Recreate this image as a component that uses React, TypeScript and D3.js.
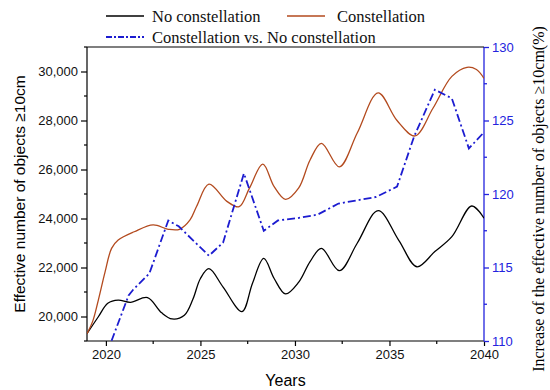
import React, { useEffect, useRef } from 'react';
import * as d3 from 'd3';

// No constellation (black)
const noConstYears = [2019, 2019.6, 2020.1, 2020.65, 2021.3, 2022.2, 2022.95, 2023.5, 2024.15, 2024.6, 2025.0, 2025.45, 2026.2, 2027.2, 2027.75, 2028.35, 2028.9, 2029.5, 2030.2, 2030.8, 2031.4, 2032.35, 2033.3, 2034.4, 2035.5, 2036.45, 2037.4, 2038.3, 2039.35, 2040];
const noConstValues = [19300, 19990, 20540, 20670, 20580, 20770, 20150, 19900, 20050, 20700, 21550, 21950, 21200, 20200, 21350, 22370, 21550, 20920, 21400, 22240, 22780, 21870, 23000, 24320, 23100, 22030, 22650, 23260, 24510, 24010];

// Constellation (brown-red)
const constYears = [2019, 2019.3, 2019.6, 2019.95, 2020.3, 2020.65, 2021.5, 2022.5, 2023.3, 2023.9, 2024.45, 2024.8, 2025.45, 2026.4, 2027.05, 2027.6, 2028.3, 2028.9, 2029.5, 2030.2, 2030.8, 2031.4, 2032.35, 2033.3, 2034.4, 2035.4, 2036.35, 2037.3, 2038.3, 2039.1, 2039.6, 2040];
const constValues = [19300, 19800, 20670, 21800, 22780, 23120, 23460, 23740, 23560, 23560, 23940, 24500, 25400, 24700, 24480, 25250, 26220, 25300, 24780, 25250, 26390, 27070, 26110, 27500, 29130, 28000, 27370, 28500, 29800, 30170, 30080, 29720];

// Constellation vs. No constellation (%), right axis
const ratioYears = [2020, 2021.2, 2021.45, 2022.3, 2023.3, 2023.85, 2025.45, 2026.2, 2027.3, 2028.35, 2029.1, 2030.1, 2031.2, 2032.3, 2034.3, 2035.4, 2036.3, 2037.4, 2038.3, 2039.2, 2040];
const ratioValues = [109.0, 113.1, 113.5, 114.6, 118.2, 117.8, 115.8, 116.7, 121.4, 117.5, 118.2, 118.35, 118.6, 119.35, 119.8, 120.5, 123.9, 127.1, 126.5, 123.1, 124.2];

const xTicks = [2020, 2025, 2030, 2035, 2040];
const xMinorTicks = [2022.5, 2027.5, 2032.5, 2037.5];
const yTicks = [20000, 22000, 24000, 26000, 28000, 30000];
const yMinorTicks = [19000, 21000, 23000, 25000, 27000, 29000, 31000];
const y2Ticks = [110, 115, 120, 125, 130];
const y2MinorTicks = [112.5, 117.5, 122.5, 127.5];

const BLACK = '#000000';
const RED = '#b34a1e';
const BLUE = '#1c1cd0';
const AXIS_BLUE = '#2323dd';
const SANS = 'Arial, "Liberation Sans", sans-serif';
const SERIF = '"Times New Roman", "Liberation Serif", serif';

export default function App() {
  const svgRef = useRef<SVGSVGElement>(null);
  const width = 550;
  const height = 390;
  const margin = { top: 47, right: 66, bottom: 49, left: 87 };

  useEffect(() => {
    const w = width - margin.left - margin.right;
    const h = height - margin.top - margin.bottom;
    const svg = d3.select(svgRef.current);
    svg.selectAll('*').remove();

    const x = d3.scaleLinear().domain([2019, 2040]).range([0, w]);
    const y = d3.scaleLinear().domain([19000, 31000]).range([h, 0]);
    const y2 = d3.scaleLinear().domain([110, 130]).range([h, 0]);

    svg.append('defs').append('clipPath').attr('id', 'plot-clip')
      .append('rect').attr('width', w).attr('height', h);

    const chart = svg.append('g').attr('transform', `translate(${margin.left},${margin.top})`);

    // bottom axis
    const xAxis = chart.append('g').attr('transform', `translate(0,${h})`)
      .call(d3.axisBottom(x).tickValues(xTicks).tickFormat(d3.format('d')).tickSize(5).tickPadding(4));
    xAxis.append('g').selectAll('line').data(xMinorTicks).join('line')
      .attr('x1', (d) => x(d)).attr('x2', (d) => x(d)).attr('y1', 0).attr('y2', 3)
      .attr('stroke', BLACK);

    // left axis
    const yAxis = chart.append('g')
      .call(d3.axisLeft(y).tickValues(yTicks).tickFormat(d3.format(',')).tickSize(6).tickPadding(3));
    yAxis.append('g').selectAll('line').data(yMinorTicks).join('line')
      .attr('x1', 0).attr('x2', -3).attr('y1', (d) => y(d)).attr('y2', (d) => y(d))
      .attr('stroke', BLACK);

    // right axis (blue)
    const y2Axis = chart.append('g').attr('transform', `translate(${w},0)`)
      .call(d3.axisRight(y2).tickValues(y2Ticks).tickSize(5).tickPadding(3));
    y2Axis.append('g').selectAll('line').data(y2MinorTicks).join('line')
      .attr('x1', 0).attr('x2', 3).attr('y1', (d) => y2(d)).attr('y2', (d) => y2(d))
      .attr('stroke', AXIS_BLUE);
    y2Axis.selectAll('path, line').attr('stroke', AXIS_BLUE).attr('stroke-width', 1.3);
    y2Axis.selectAll('text').attr('fill', AXIS_BLUE);

    [xAxis, yAxis].forEach((a) => {
      a.selectAll('path, line').attr('stroke', BLACK).attr('stroke-width', 1.2);
      a.selectAll('text').attr('fill', '#111');
    });
    chart.selectAll('.tick text').attr('font-family', SANS).attr('font-size', 13);
    // plain axis lines, no outer tick stubs
    xAxis.select('.domain').attr('d', `M0,0H${w}`);
    yAxis.select('.domain').attr('d', `M0,0V${h}`);
    y2Axis.select('.domain').attr('d', `M0,0V${h}`);

    // top frame line
    chart.append('line').attr('x1', 0).attr('x2', w).attr('y1', 0).attr('y2', 0)
      .attr('stroke', BLACK).attr('stroke-width', 1.2);

    const plot = chart.append('g').attr('clip-path', 'url(#plot-clip)');

    const smooth = d3.line<number>()
      .curve(d3.curveCatmullRom.alpha(0.5));

    plot.append('path')
      .attr('d', smooth.x((d, i) => x(noConstYears[i])).y((d) => y(d))(noConstValues))
      .attr('fill', 'none').attr('stroke', BLACK).attr('stroke-width', 1.3);

    plot.append('path')
      .attr('d', smooth.x((d, i) => x(constYears[i])).y((d) => y(d))(constValues))
      .attr('fill', 'none').attr('stroke', RED).attr('stroke-width', 1.3);

    const ratioLine = d3.line<number>().x((d, i) => x(ratioYears[i])).y((d) => y2(d));
    plot.append('path')
      .attr('d', ratioLine(ratioValues))
      .attr('fill', 'none').attr('stroke', BLUE).attr('stroke-width', 1.8)
      .attr('stroke-dasharray', '8,3,2,3');

    // axis titles
    svg.append('text')
      .attr('transform', `translate(${margin.left + w / 2},386)`)
      .attr('text-anchor', 'middle').attr('font-family', SANS).attr('font-size', 16)
      .text('Years');

    svg.append('text')
      .attr('transform', `translate(25,${margin.top + h / 2}) rotate(-90)`)
      .attr('text-anchor', 'middle').attr('font-family', SANS).attr('font-size', 15.5)
      .text('Effective number of objects ≥10cm');

    svg.append('text')
      .attr('transform', `translate(544,${margin.top + h / 2 + 5}) rotate(-90)`)
      .attr('text-anchor', 'middle').attr('font-family', SERIF).attr('font-size', 16)
      .text('Increase of the effective number of objects ≥10cm(%)');

    // legend
    const legend = svg.append('g');
    const items = [
      { x: 106, y: 16, color: BLACK, dash: null, label: 'No constellation' },
      { x: 287, y: 16, color: RED, dash: null, label: 'Constellation' },
      { x: 106, y: 37, color: BLUE, dash: '6,2,2,2', label: 'Constellation vs. No constellation' },
    ];
    items.forEach((it, i) => {
      legend.append('line')
        .attr('x1', it.x).attr('x2', it.x + 38).attr('y1', it.y).attr('y2', it.y)
        .attr('stroke', it.color).attr('stroke-width', i === 2 ? 1.8 : 1.4)
        .attr('stroke-dasharray', it.dash);
      legend.append('text')
        .attr('x', i === 1 ? 337 : 152).attr('y', it.y + 6)
        .attr('font-family', SERIF).attr('font-size', 16.5).attr('fill', '#111')
        .text(it.label);
    });
  }, []);

  return (
    <svg ref={svgRef} width={width} height={height}
      style={{ position: 'absolute', left: 0, top: 0, background: '#fff' }} />
  );
}
